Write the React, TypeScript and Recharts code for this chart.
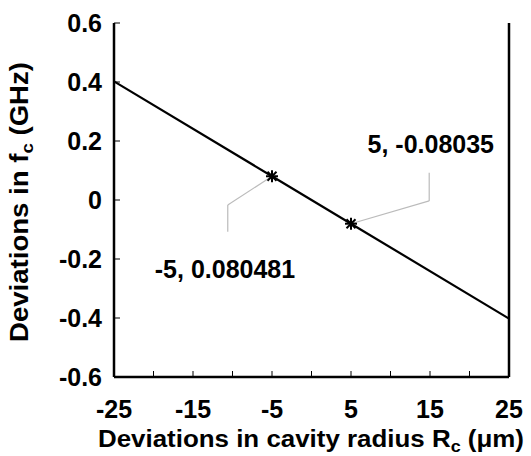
import React from 'react';
import {
  LineChart,
  Line,
  XAxis,
  YAxis,
  ReferenceLine,
  ReferenceDot,
} from 'recharts';

// line samples (deviation in radius, deviation in fc)
const radius = [-25, -5, 5, 25];
const deltaF = [0.402, 0.080481, -0.08035, -0.402];
// points that get a star marker
const markedRadius = [-5, 5];

const xTicks = [-25, -20, -15, -10, -5, 0, 5, 10, 15, 20, 25];
const xTickLabels = [-25, -15, -5, 5, 15, 25];
const yTicks = [-0.6, -0.4, -0.2, 0, 0.2, 0.4, 0.6];

// callout labels and leader lines, in data units
const noteTexts = ['-5, 0.080481', '5, -0.08035'];
const noteX = [-10.95, 15.1];
const noteY = [-0.234, 0.188];
const leaderLeftX = [-5, -10.6, -10.6];
const leaderLeftY = [0.080481, -0.017, -0.108];
const leaderRightX = [5, 14.9, 14.9];
const leaderRightY = [-0.08035, -0.003, 0.092];

const data = radius.map((r, i) => ({ r, f: deltaF[i], mark: markedRadius.includes(r) }));

const FONT = '"Liberation Sans", Arial, sans-serif';

const Star = (props: any) => {
  const { cx, cy, payload } = props;
  if (!payload || !payload.mark) return null;
  const s = 6;
  const d = 4.5;
  return (
    <g stroke="#000" strokeWidth={2}>
      <line x1={cx - s} y1={cy} x2={cx + s} y2={cy} />
      <line x1={cx} y1={cy - s} x2={cx} y2={cy + s} />
      <line x1={cx - d} y1={cy - d} x2={cx + d} y2={cy + d} />
      <line x1={cx - d} y1={cy + d} x2={cx + d} y2={cy - d} />
    </g>
  );
};

const XTitle = () => {
  return (
    <text
      x={311}
      y={447}
      textAnchor="middle"
      fontFamily={FONT}
      fontWeight="bold"
      fontSize={23}
      fill="#000"
      textLength={426}
      lengthAdjust="spacingAndGlyphs"
    >
      Deviations in cavity radius R
      <tspan fontSize={16} dy={5}>c</tspan>
      <tspan dy={-5}> (μm)</tspan>
    </text>
  );
};

const YTitle = () => {
  return (
    <text
      transform="translate(28, 202) rotate(-90)"
      textAnchor="middle"
      fontFamily={FONT}
      fontWeight="bold"
      fontSize={25}
      fill="#000"
      textLength={280}
      lengthAdjust="spacingAndGlyphs"
    >
      Deviations in f
      <tspan fontSize={17} dy={5}>c</tspan>
      <tspan dy={-5}> (GHz)</tspan>
    </text>
  );
};

const tickStyle = { fontFamily: FONT, fontWeight: 'bold', fontSize: 25, fill: '#000' };

export default function App() {
  return (
    <div style={{ position: 'absolute', left: 0, top: 0, background: '#fff' }}>
      <LineChart width={531} height={456} data={data} margin={{ top: 23, right: 0, bottom: 0, left: 0 }}>
        <XAxis
          xAxisId="b"
          dataKey="r"
          type="number"
          domain={[-25, 25]}
          ticks={xTicks}
          tickFormatter={(v: number) => (xTickLabels.includes(v) ? String(v) : '')}
          tickSize={-6}
          tickMargin={29}
          tick={tickStyle}
          axisLine={{ stroke: '#000', strokeWidth: 2.5 }}
          tickLine={{ stroke: '#000', strokeWidth: 1 }}
          height={79}
          interval={0}
          label={<XTitle />}
        />
        <XAxis
          xAxisId="t"
          orientation="top"
          dataKey="r"
          type="number"
          domain={[-25, 25]}
          ticks={xTicks}
          tickFormatter={() => ''}
          tickSize={-6}
          axisLine={{ stroke: '#000', strokeWidth: 2.5 }}
          tickLine={{ stroke: '#000', strokeWidth: 1 }}
          height={0}
          interval={0}
        />
        <YAxis
          yAxisId="l"
          type="number"
          domain={[-0.6, 0.6]}
          ticks={yTicks}
          tickFormatter={(v: number) => String(v)}
          tickSize={-6}
          tickMargin={18}
          tick={tickStyle}
          axisLine={{ stroke: '#000', strokeWidth: 2.5 }}
          tickLine={{ stroke: '#000', strokeWidth: 1 }}
          width={114}
          interval={0}
          label={<YTitle />}
        />
        <YAxis
          yAxisId="r"
          orientation="right"
          type="number"
          domain={[-0.6, 0.6]}
          ticks={yTicks}
          tickFormatter={() => ''}
          tickSize={-6}
          axisLine={{ stroke: '#000', strokeWidth: 2.5 }}
          tickLine={{ stroke: '#000', strokeWidth: 1 }}
          width={22}
          interval={0}
        />
        <ReferenceLine
          xAxisId="b"
          yAxisId="l"
          segment={[
            { x: leaderLeftX[0], y: leaderLeftY[0] },
            { x: leaderLeftX[1], y: leaderLeftY[1] },
          ]}
          stroke="#bbb"
          strokeWidth={1.2}
        />
        <ReferenceLine
          xAxisId="b"
          yAxisId="l"
          segment={[
            { x: leaderLeftX[1], y: leaderLeftY[1] },
            { x: leaderLeftX[2], y: leaderLeftY[2] },
          ]}
          stroke="#bbb"
          strokeWidth={1.2}
        />
        <ReferenceLine
          xAxisId="b"
          yAxisId="l"
          segment={[
            { x: leaderRightX[0], y: leaderRightY[0] },
            { x: leaderRightX[1], y: leaderRightY[1] },
          ]}
          stroke="#bbb"
          strokeWidth={1.2}
        />
        <ReferenceLine
          xAxisId="b"
          yAxisId="l"
          segment={[
            { x: leaderRightX[1], y: leaderRightY[1] },
            { x: leaderRightX[2], y: leaderRightY[2] },
          ]}
          stroke="#bbb"
          strokeWidth={1.2}
        />
        <Line
          xAxisId="b"
          yAxisId="l"
          dataKey="f"
          type="linear"
          stroke="#000"
          strokeWidth={2.2}
          dot={<Star />}
          activeDot={false}
          isAnimationActive={false}
        />
        {noteTexts.map((t, i) => (
          <ReferenceDot
            key={t}
            xAxisId="b"
            yAxisId="l"
            x={noteX[i]}
            y={noteY[i]}
            r={0}
            stroke="none"
            fill="none"
            label={{
              value: t,
              position: 'center',
              fontFamily: FONT,
              fontWeight: 'bold',
              fontSize: 25,
              fill: '#000',
            }}
          />
        ))}
      </LineChart>
    </div>
  );
}
